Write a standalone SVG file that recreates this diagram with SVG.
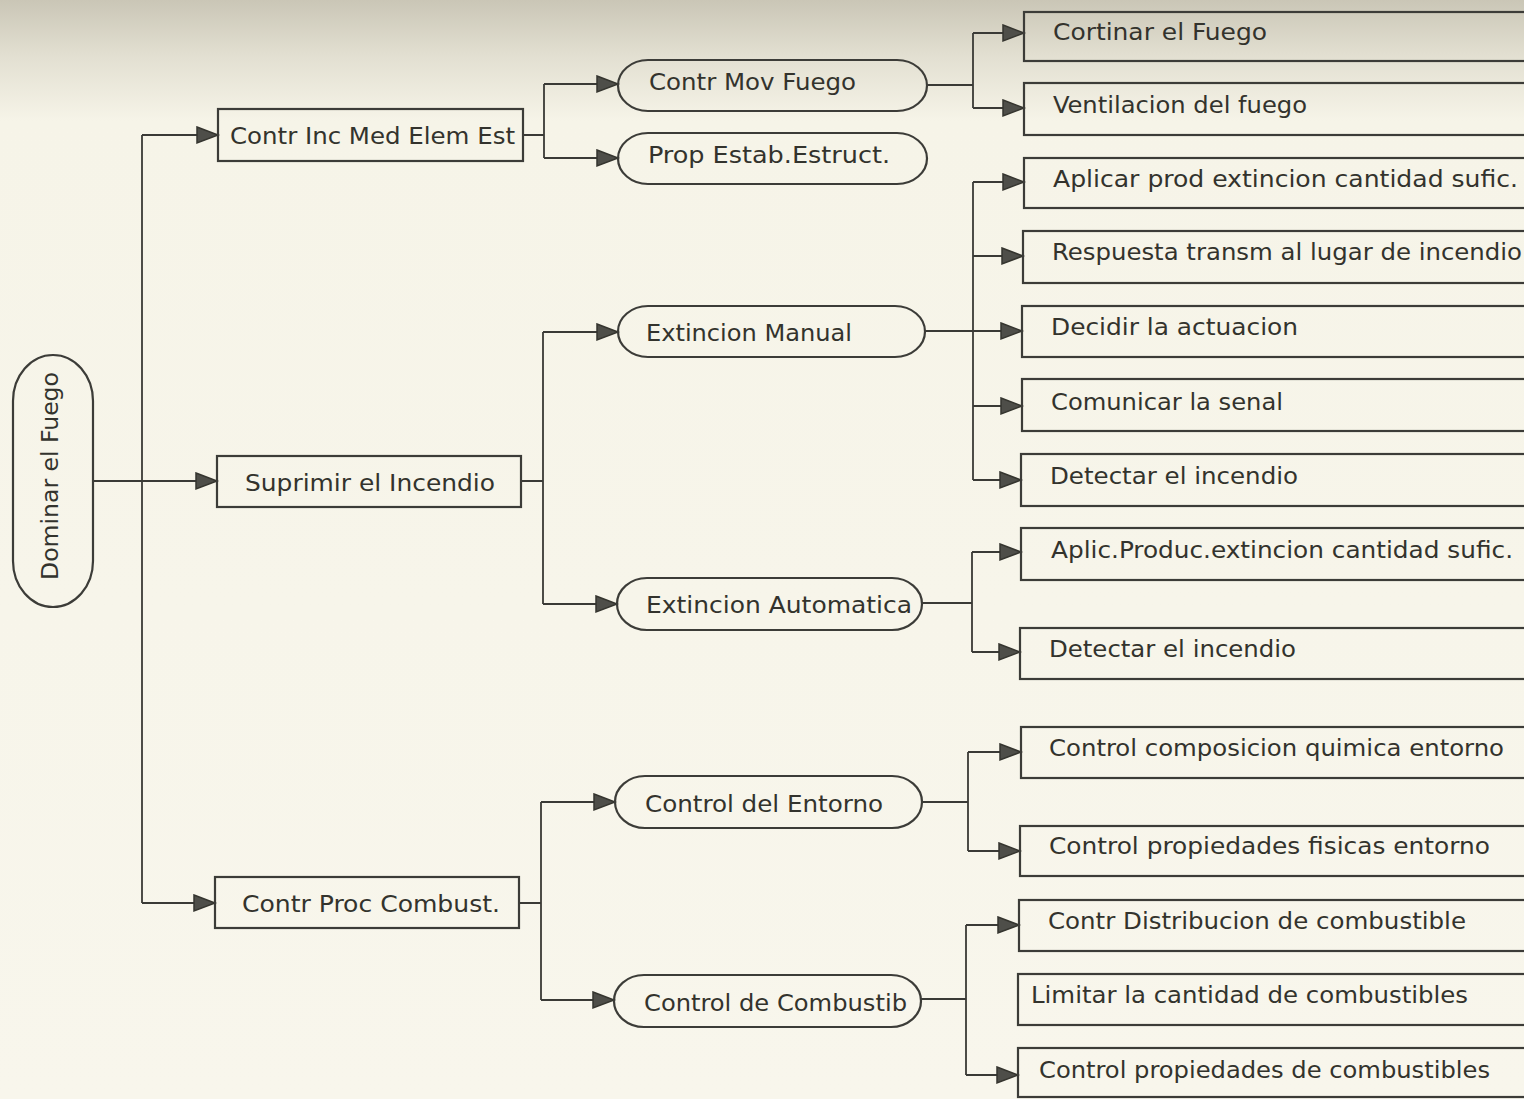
<svg xmlns="http://www.w3.org/2000/svg" width="1524" height="1099" viewBox="0 0 1524 1099">
  <defs>
    <linearGradient id="paper" x1="0" y1="0" x2="0" y2="1">
      <stop offset="0" stop-color="#cac6b6"/>
      <stop offset="0.05" stop-color="#e2dfd1"/>
      <stop offset="0.11" stop-color="#f6f4e8"/>
      <stop offset="1" stop-color="#f8f6ec"/>
    </linearGradient>
    <marker id="arr" markerUnits="userSpaceOnUse" markerWidth="26" markerHeight="20" refX="22" refY="9" orient="auto">
      <path d="M1,1 L22,9 L1,17 Z" fill="#4e4e49" stroke="#35352f" stroke-width="1.5"/>
    </marker>
    <style>
      .box { fill: none; stroke: #3c3c38; stroke-width: 2.2; }
      .line { fill: none; stroke: #3a3a36; stroke-width: 1.8; }
      .arrow { marker-end: url(#arr); }
      text { font-family: "DejaVu Sans Condensed", "DejaVu Sans", sans-serif; font-size: 23.5px; fill: #33332d; }
    </style>
  </defs>

  <rect x="0" y="0" width="1524" height="1099" fill="url(#paper)"/>

  <!-- connectors -->
  <g id="connectors">
    <path class="line arrow" d="M93,481 H217"/>
    <path class="line" d="M142,135 V903"/>
    <path class="line arrow" d="M142,135 H218"/>
    <path class="line arrow" d="M142,903 H215"/>

    <path class="line" d="M523,135 H544 M544,84 V158"/>
    <path class="line arrow" d="M544,84 H618"/>
    <path class="line arrow" d="M544,158 H618"/>

    <path class="line" d="M927,85 H973 M973,33 V108"/>
    <path class="line arrow" d="M973,33 H1024"/>
    <path class="line arrow" d="M973,108 H1024"/>

    <path class="line" d="M521,481 H543 M543,332 V604"/>
    <path class="line arrow" d="M543,332 H618"/>
    <path class="line arrow" d="M543,604 H617"/>

    <path class="line" d="M973,182 V480"/>
    <path class="line arrow" d="M925,331 H1022"/>
    <path class="line arrow" d="M973,182 H1024"/>
    <path class="line arrow" d="M973,256 H1023"/>
    <path class="line arrow" d="M973,406 H1022"/>
    <path class="line arrow" d="M973,480 H1021"/>

    <path class="line" d="M922,603 H972 M972,552 V652"/>
    <path class="line arrow" d="M972,552 H1021"/>
    <path class="line arrow" d="M972,652 H1020"/>

    <path class="line" d="M519,903 H541 M541,802 V1000"/>
    <path class="line arrow" d="M541,802 H615"/>
    <path class="line arrow" d="M541,1000 H614"/>

    <path class="line" d="M922,802 H968 M968,752 V851"/>
    <path class="line arrow" d="M968,752 H1021"/>
    <path class="line arrow" d="M968,851 H1020"/>

    <path class="line" d="M921,999 H966 M966,925 V1075"/>
    <path class="line arrow" d="M966,925 H1019"/>
    <path class="line arrow" d="M966,1075 H1018"/>
  </g>

  <!-- root -->
  <g id="dominar-fuego">
    <rect class="box" x="13" y="355" width="80" height="252" rx="40" ry="46"/>
    <text transform="translate(58,476) rotate(-90)" text-anchor="middle" font-size="22" textLength="208" lengthAdjust="spacingAndGlyphs">Dominar el Fuego</text>
  </g>

  <!-- first level -->
  <g id="contr-inc-med">
    <rect class="box" x="218" y="109" width="305" height="52"/>
    <text x="230" y="144" textLength="285" lengthAdjust="spacingAndGlyphs">Contr Inc Med Elem Est</text>
  </g>
  <g id="suprimir-incendio">
    <rect class="box" x="217" y="456" width="304" height="51"/>
    <text x="245" y="491" textLength="250" lengthAdjust="spacingAndGlyphs">Suprimir el Incendio</text>
  </g>
  <g id="contr-proc-combust">
    <rect class="box" x="215" y="877" width="304" height="51"/>
    <text x="242" y="912" textLength="258" lengthAdjust="spacingAndGlyphs">Contr Proc Combust.</text>
  </g>

  <!-- second level -->
  <g id="contr-mov-fuego">
    <rect class="box" x="618" y="60" width="309" height="51" rx="30" ry="25.5"/>
    <text x="649" y="90" textLength="207" lengthAdjust="spacingAndGlyphs">Contr Mov Fuego</text>
  </g>
  <g id="prop-estab">
    <rect class="box" x="618" y="133" width="309" height="51" rx="30" ry="25.5"/>
    <text x="648" y="163" textLength="242" lengthAdjust="spacingAndGlyphs">Prop Estab.Estruct.</text>
  </g>
  <g id="extincion-manual">
    <rect class="box" x="618" y="306" width="307" height="51" rx="30" ry="25.5"/>
    <text x="646" y="341" textLength="206" lengthAdjust="spacingAndGlyphs">Extincion Manual</text>
  </g>
  <g id="extincion-automatica">
    <rect class="box" x="617" y="578" width="305" height="52" rx="30" ry="26"/>
    <text x="646" y="613" textLength="266" lengthAdjust="spacingAndGlyphs">Extincion Automatica</text>
  </g>
  <g id="control-entorno">
    <rect class="box" x="615" y="776" width="307" height="52" rx="30" ry="26"/>
    <text x="645" y="812" textLength="238" lengthAdjust="spacingAndGlyphs">Control del Entorno</text>
  </g>
  <g id="control-combustib">
    <rect class="box" x="614" y="975" width="307" height="52" rx="30" ry="26"/>
    <text x="644" y="1011" textLength="263" lengthAdjust="spacingAndGlyphs">Control de Combustib</text>
  </g>

  <!-- third level -->
  <g id="cortinar-fuego">
    <rect class="box" x="1024" y="12" width="510" height="49"/>
    <text x="1053" y="40" textLength="214" lengthAdjust="spacingAndGlyphs">Cortinar el Fuego</text>
  </g>
  <g id="ventilacion-fuego">
    <rect class="box" x="1024" y="83" width="510" height="52"/>
    <text x="1053" y="113" textLength="254" lengthAdjust="spacingAndGlyphs">Ventilacion del fuego</text>
  </g>
  <g id="aplicar-prod">
    <rect class="box" x="1024" y="158" width="510" height="50"/>
    <text x="1053" y="187" textLength="465" lengthAdjust="spacingAndGlyphs">Aplicar prod extincion cantidad sufic.</text>
  </g>
  <g id="respuesta-transm">
    <rect class="box" x="1023" y="231" width="511" height="52"/>
    <text x="1052" y="260" textLength="470" lengthAdjust="spacingAndGlyphs">Respuesta transm al lugar de incendio</text>
  </g>
  <g id="decidir-actuacion">
    <rect class="box" x="1022" y="306" width="512" height="51"/>
    <text x="1051" y="335" textLength="247" lengthAdjust="spacingAndGlyphs">Decidir la actuacion</text>
  </g>
  <g id="comunicar-senal">
    <rect class="box" x="1022" y="379" width="512" height="52"/>
    <text x="1051" y="410" textLength="232" lengthAdjust="spacingAndGlyphs">Comunicar la senal</text>
  </g>
  <g id="detectar-incendio-1">
    <rect class="box" x="1021" y="454" width="513" height="52"/>
    <text x="1050" y="484" textLength="248" lengthAdjust="spacingAndGlyphs">Detectar el incendio</text>
  </g>
  <g id="aplic-produc">
    <rect class="box" x="1021" y="528" width="513" height="52"/>
    <text x="1051" y="558" textLength="462" lengthAdjust="spacingAndGlyphs">Aplic.Produc.extincion cantidad sufic.</text>
  </g>
  <g id="detectar-incendio-2">
    <rect class="box" x="1020" y="628" width="514" height="51"/>
    <text x="1049" y="657" textLength="247" lengthAdjust="spacingAndGlyphs">Detectar el incendio</text>
  </g>
  <g id="control-composicion">
    <rect class="box" x="1021" y="727" width="513" height="51"/>
    <text x="1049" y="756" textLength="455" lengthAdjust="spacingAndGlyphs">Control composicion quimica entorno</text>
  </g>
  <g id="control-fisicas">
    <rect class="box" x="1020" y="826" width="514" height="50"/>
    <text x="1049" y="854" textLength="441" lengthAdjust="spacingAndGlyphs">Control propiedades fisicas entorno</text>
  </g>
  <g id="contr-distribucion">
    <rect class="box" x="1019" y="900" width="515" height="51"/>
    <text x="1048" y="929" textLength="418" lengthAdjust="spacingAndGlyphs">Contr Distribucion de combustible</text>
  </g>
  <g id="limitar-cantidad">
    <rect class="box" x="1018" y="974" width="516" height="51"/>
    <text x="1031" y="1003" textLength="437" lengthAdjust="spacingAndGlyphs">Limitar la cantidad de combustibles</text>
  </g>
  <g id="control-prop-combustibles">
    <rect class="box" x="1018" y="1048" width="516" height="49"/>
    <text x="1039" y="1078" textLength="451" lengthAdjust="spacingAndGlyphs">Control propiedades de combustibles</text>
  </g>
</svg>
